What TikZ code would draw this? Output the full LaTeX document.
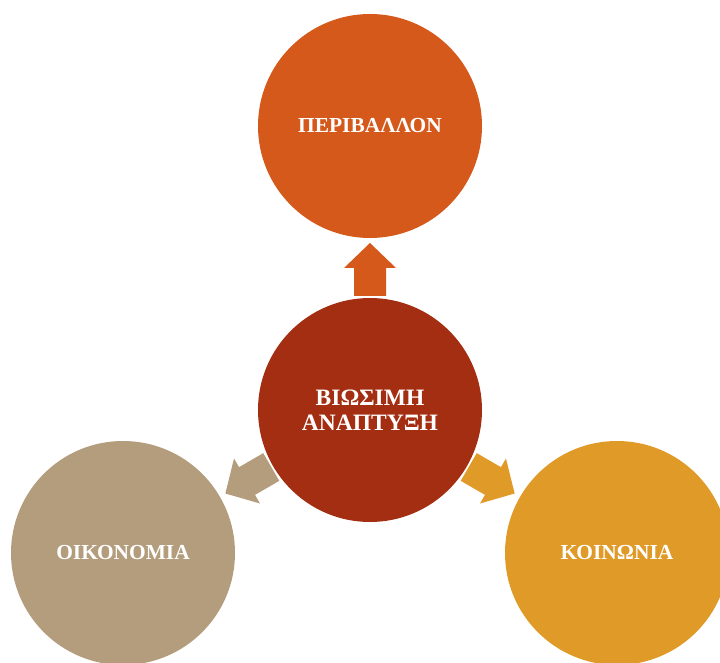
\documentclass[tikz,border=0pt]{standalone}
\usepackage{fontspec}
\setmainfont{Liberation Serif}
\definecolor{envcol}{HTML}{D4591A}
\definecolor{corecol}{HTML}{A42E11}
\definecolor{ecocol}{HTML}{B39D7D}
\definecolor{soccol}{HTML}{E09A28}
\tikzset{
  pillar/.style={circle, minimum size=224pt, inner sep=0pt, text=white,
    align=center, font=\fontsize{21.4}{25}\selectfont\bfseries},
  corefont/.style={font=\fontsize{23.5}{24.5}\selectfont\bfseries},
  blockarrow/.pic={
    \fill (114,-16) -- (142,-16) -- (142,-26) -- (167,0) -- (142,26)
      -- (142,16) -- (114,16) -- cycle;
  }
}
\begin{document}
\begin{tikzpicture}[x=1pt,y=1pt]
  \useasboundingbox (0,0) rectangle (720,662);
  \clip (0,0) rectangle (720,662);
  % the four circles
  \node[pillar, fill=envcol]  (env)  at (370,536) {ΠΕΡΙΒΑΛΛΟΝ};
  \node[pillar, corefont, fill=corecol] (core) at (370,252) {ΒΙΩΣΙΜΗ\\ΑΝΑΠΤΥΞΗ};
  \node[pillar, fill=ecocol]  (eco)  at (123,109) {ΟΙΚΟΝΟΜΙΑ};
  \node[pillar, fill=soccol]  (soc)  at (617,109) {ΚΟΙΝΩΝΙΑ};
  % block arrows from the centre towards each circle
  \pic[fill=envcol, rotate=90]  at (core.center) {blockarrow};
  \pic[fill=ecocol, rotate=210] at (core.center) {blockarrow};
  \pic[fill=soccol, rotate=-30] at (core.center) {blockarrow};
\end{tikzpicture}
\end{document}
